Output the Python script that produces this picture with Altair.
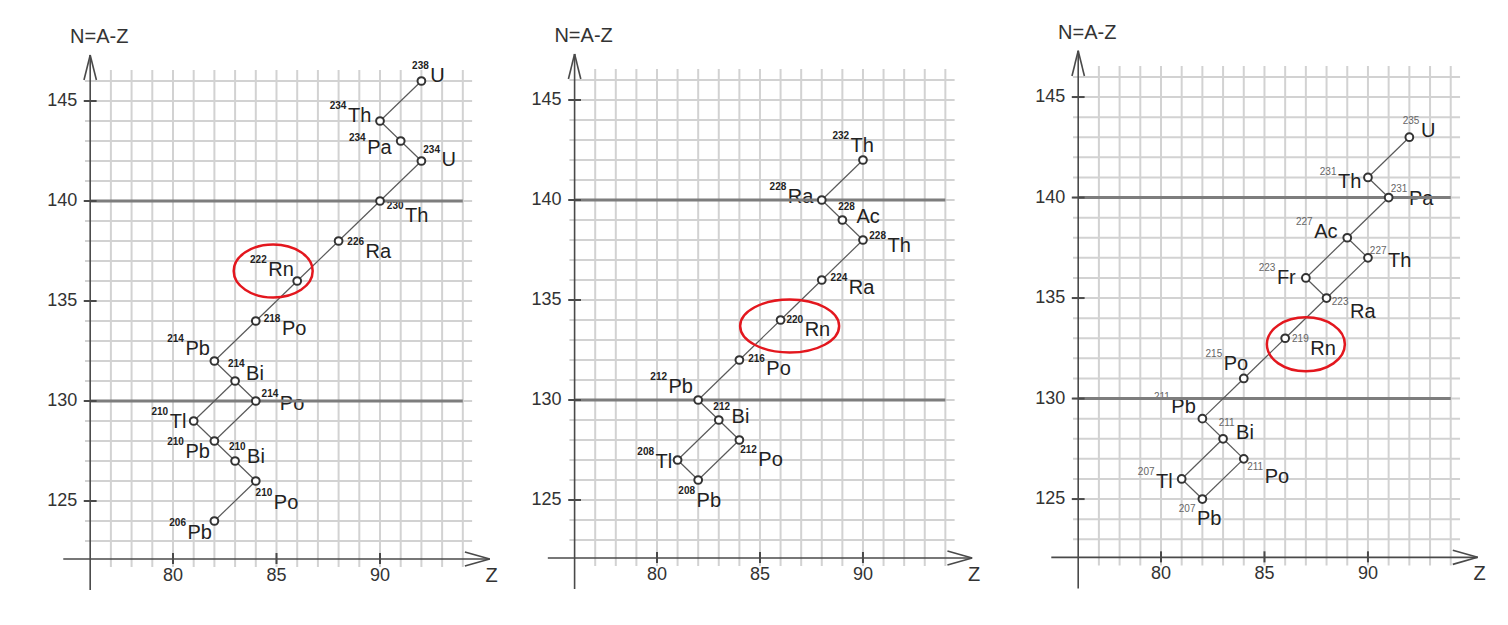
import altair as alt
import pandas as pd

# ---------------- data: three decay chains (Z, N = A - Z) ----------------
# Uranium-238 series
u_sym = ["U", "Th", "Pa", "U", "Th", "Ra", "Rn", "Po", "Pb", "Bi", "Po", "Tl", "Pb", "Bi", "Po", "Pb"]
u_A = [238, 234, 234, 234, 230, 226, 222, 218, 214, 214, 214, 210, 210, 210, 210, 206]
u_Z = [92, 90, 91, 92, 90, 88, 86, 84, 82, 83, 84, 81, 82, 83, 84, 82]
u_N = [146, 144, 143, 142, 140, 138, 136, 134, 132, 131, 130, 129, 128, 127, 126, 124]
u_lz = [92.43, 88.45, 89.38, 92.97, 91.21, 89.30, 84.60, 85.26, 80.60, 83.53, 85.16, 79.84, 80.60, 83.58, 84.87, 80.70]
u_ln = [145.95, 143.95, 142.35, 141.75, 138.95, 137.15, 136.25, 133.30, 132.30, 131.05, 129.55, 128.65, 127.15, 126.90, 124.60, 123.10]
u_edges = [(0, 1), (1, 2), (2, 3), (3, 4), (4, 5), (5, 6), (6, 7), (7, 8), (8, 9), (9, 10),
           (9, 11), (10, 12), (11, 12), (12, 13), (13, 14), (14, 15)]
u_mark = (84.84, 136.5)   # red ellipse around Rn

# Thorium-232 series
t_sym = ["Th", "Ra", "Ac", "Th", "Ra", "Rn", "Po", "Pb", "Bi", "Po", "Tl", "Pb"]
t_A = [232, 228, 228, 228, 224, 220, 216, 212, 212, 212, 208, 208]
t_Z = [90, 88, 89, 90, 88, 86, 84, 82, 83, 84, 81, 82]
t_N = [142, 140, 139, 138, 136, 134, 132, 130, 129, 128, 127, 126]
t_lz = [89.40, 86.35, 89.68, 91.19, 89.31, 87.17, 85.31, 80.56, 83.62, 84.92, 79.93, 81.92]
t_ln = [142.40, 139.85, 138.85, 137.40, 135.30, 133.20, 131.25, 130.35, 128.85, 126.70, 126.60, 124.65]
t_edges = [(0, 1), (1, 2), (2, 3), (3, 4), (4, 5), (5, 6), (6, 7), (7, 8), (8, 9), (8, 10), (9, 11), (10, 11)]
t_mark = (86.44, 133.7)

# Uranium-235 (actinium) series
a_sym = ["U", "Th", "Pa", "Ac", "Th", "Fr", "Ra", "Rn", "Po", "Pb", "Bi", "Po", "Tl", "Pb"]
a_A = [235, 231, 231, 227, 227, 223, 223, 219, 215, 211, 211, 211, 207, 207]
a_Z = [92, 90, 91, 89, 90, 87, 88, 86, 84, 82, 83, 84, 81, 82]
a_N = [143, 141, 140, 138, 137, 136, 135, 133, 131, 129, 128, 127, 126, 125]
a_lz = [92.56, 88.55, 91.98, 87.40, 90.97, 85.60, 89.13, 87.21, 83.03, 80.50, 83.63, 85.01, 79.76, 81.74]
a_ln = [143.00, 140.47, 139.63, 138.00, 136.55, 135.70, 134.00, 132.15, 131.40, 129.28, 128.00, 125.80, 125.55, 123.70]
a_edges = [(0, 1), (1, 2), (2, 3), (3, 4), (3, 5), (4, 6), (5, 6), (6, 7), (7, 8), (8, 9), (9, 10),
           (10, 11), (10, 12), (11, 13), (12, 13)]
a_mark = (87.0, 132.7)

# axes / grid
x_ticks = [80, 85, 90]
y_ticks = [125, 130, 135, 140, 145]
grid_z = list(range(77, 95))
grid_n = list(range(123, 147))
heavy_n = [130, 140]

AXIS_Z = 76
AXIS_N = 122.1
FONT = "Liberation Sans"


def ellipse_path(ratio):
    k = 0.5523
    r = ratio
    return (f"M-1,0 C-1,{-k*r:.4f} {-k:.4f},{-r:.4f} 0,{-r:.4f} "
            f"C{k:.4f},{-r:.4f} 1,{-k*r:.4f} 1,0 "
            f"C1,{k*r:.4f} {k:.4f},{r:.4f} 0,{r:.4f} "
            f"C{-k:.4f},{r:.4f} -1,{k*r:.4f} -1,0 Z")


def panel(sym, A, Z, N, lz, ln, edges, mark, ell_w, ell_h,
          z0, z1, n0, n1, W, H, sup_color, sup_weight):
    xs = alt.Scale(domain=[z0, z1], nice=False, zero=False)
    ys = alt.Scale(domain=[n0, n1], nice=False, zero=False)

    def enc(x, y, x2=None, y2=None, **kw):
        d = dict(x=alt.X(x, type="quantitative", scale=xs, axis=None),
                 y=alt.Y(y, type="quantitative", scale=ys, axis=None))
        if x2:
            d["x2"] = alt.X2(x2)
        if y2:
            d["y2"] = alt.Y2(y2)
        d.update(kw)
        return d

    vgrid = pd.DataFrame({"z": grid_z, "lo": 121.7, "hi": 146.55})
    hgrid = pd.DataFrame({"n": grid_n, "lo": 75.75, "hi": 94.45})
    heavy = pd.DataFrame({"n": heavy_n, "lo": AXIS_Z, "hi": 94.0})

    axes = pd.DataFrame([
        (AXIS_Z, 120.55, AXIS_Z, 147.3),          # vertical axis
        (74.7, AXIS_N, 95.3, AXIS_N),             # horizontal axis
        (AXIS_Z, 147.3, AXIS_Z - 0.3, 146.05),    # arrow heads
        (AXIS_Z, 147.3, AXIS_Z + 0.3, 146.05),
        (95.3, AXIS_N, 94.1, AXIS_N - 0.35),
        (95.3, AXIS_N, 94.1, AXIS_N + 0.35),
    ], columns=["za", "na", "zb", "nb"])

    xt = pd.DataFrame({"z": x_ticks, "lo": AXIS_N - 0.25, "hi": AXIS_N + 0.3,
                       "n": AXIS_N, "lab": [str(v) for v in x_ticks]})
    yt = pd.DataFrame({"n": y_ticks, "lo": AXIS_Z - 0.31, "hi": AXIS_Z + 0.31,
                       "z": AXIS_Z, "lab": [str(v) for v in y_ticks]})

    nuc = pd.DataFrame({"sym": sym, "A": [str(a) for a in A], "Z": Z, "N": N, "lz": lz, "ln": ln})
    seg = pd.DataFrame({"za": [Z[i] for i, j in edges], "na": [N[i] for i, j in edges],
                        "zb": [Z[j] for i, j in edges], "nb": [N[j] for i, j in edges]})
    ell = pd.DataFrame({"z": [mark[0]], "n": [mark[1]]})
    ttl = pd.DataFrame({"z": [AXIS_Z], "n": [147.3], "t": ["N=A-Z"]})
    zt = pd.DataFrame({"z": [95.3], "n": [AXIS_N], "t": ["Z"]})

    layers = [
        alt.Chart(vgrid).mark_rule(color="#d2d2d2", strokeWidth=2).encode(**enc("z", "lo", y2="hi")),
        alt.Chart(hgrid).mark_rule(color="#d2d2d2", strokeWidth=2).encode(**enc("lo", "n", x2="hi")),
        alt.Chart(nuc).mark_text(font=FONT, fontSize=20, align="left", baseline="alphabetic",
                                 color="#222").encode(**enc("lz", "ln", text="sym:N")),
        alt.Chart(nuc).mark_text(font=FONT, fontSize=10, fontWeight=sup_weight, align="right",
                                 baseline="alphabetic", dx=-1.5, dy=-13,
                                 color=sup_color).encode(**enc("lz", "ln", text="A:N")),
        alt.Chart(heavy).mark_rule(color="#7d7d7d", strokeWidth=3).encode(**enc("lo", "n", x2="hi")),
        alt.Chart(axes).mark_rule(color="#4a4a4a", strokeWidth=1.6).encode(**enc("za", "na", x2="zb", y2="nb")),
        alt.Chart(xt).mark_rule(color="#4a4a4a", strokeWidth=2).encode(**enc("z", "lo", y2="hi")),
        alt.Chart(yt).mark_rule(color="#4a4a4a", strokeWidth=2).encode(**enc("lo", "n", x2="hi")),
        alt.Chart(xt).mark_text(font=FONT, fontSize=18, align="center", baseline="middle", dy=16.5,
                                color="#333").encode(**enc("z", "n", text="lab:N")),
        alt.Chart(yt).mark_text(font=FONT, fontSize=18, align="right", baseline="middle", dx=-13,
                                color="#333").encode(**enc("z", "n", text="lab:N")),
        alt.Chart(ttl).mark_text(font=FONT, fontSize=20, align="center", baseline="alphabetic",
                                 dx=9, dy=-12, color="#333").encode(**enc("z", "n", text="t:N")),
        alt.Chart(zt).mark_text(font=FONT, fontSize=20, align="center", baseline="alphabetic",
                                dx=2, dy=23, color="#333").encode(**enc("z", "n", text="t:N")),
        alt.Chart(seg).mark_rule(color="#5a5a5a", strokeWidth=1.2).encode(**enc("za", "na", x2="zb", y2="nb")),
        alt.Chart(nuc).mark_point(shape="circle", filled=True, color="white", stroke="#333",
                                  strokeWidth=2, size=60, opacity=1).encode(**enc("Z", "N")),
        alt.Chart(ell).mark_point(shape=ellipse_path(ell_h / ell_w), filled=False, color="#e3171e",
                                  strokeWidth=2.5, size=ell_w * ell_w, opacity=1).encode(**enc("z", "n")),
    ]
    return alt.layer(*layers).properties(width=W, height=H)


H = 600
p1 = panel(u_sym, u_A, u_Z, u_N, u_lz, u_ln, u_edges, u_mark, 79, 53,
           72.03, 95.41, 119.65, 149.65, 484, H, "#222", "bold")
p2 = panel(t_sym, t_A, t_Z, t_N, t_lz, t_ln, t_edges, t_mark, 99, 53,
           71.99, 96.41, 119.6, 149.6, 503, H, "#222", "bold")
p3 = panel(a_sym, a_A, a_Z, a_N, a_lz, a_ln, a_edges, a_mark, 78, 54,
           71.98, 96.38, 119.58, 149.43, 505, H, "#666", "normal")

chart = alt.hconcat(p1, p2, p3, spacing=0, bounds="flush").properties(
    padding=0, background="white"
).configure_view(stroke=None, strokeWidth=0)

chart.save("out.html", embed_options={"renderer": "svg", "actions": False})
